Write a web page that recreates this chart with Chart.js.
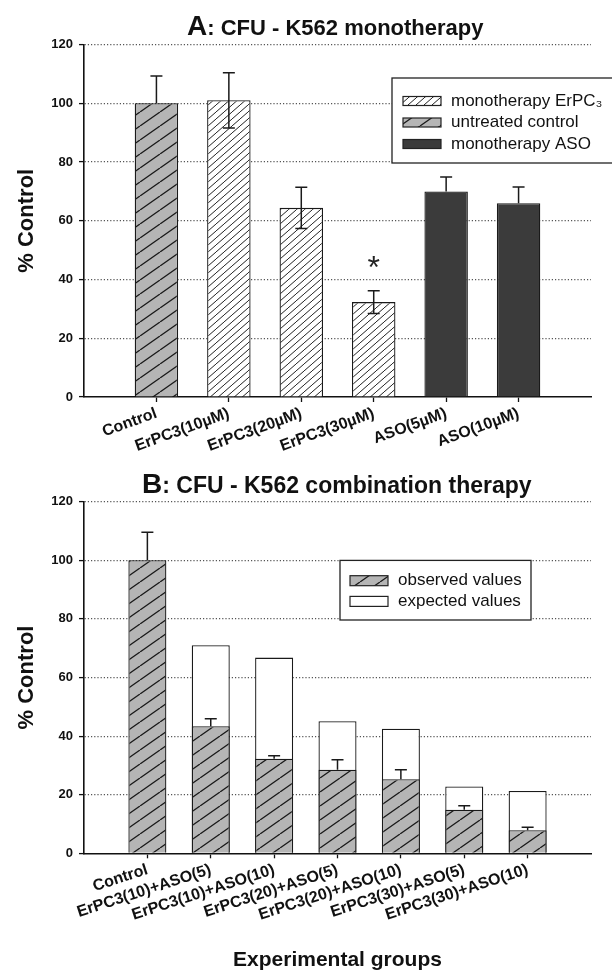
<!DOCTYPE html>
<html>
<head>
<meta charset="utf-8">
<script src="https://cdn.jsdelivr.net/npm/chart.js@4.4.1/dist/chart.umd.min.js"></script>
<style>
  html, body { margin: 0; padding: 0; background: #fff; }
  #page { position: relative; width: 612px; height: 971px; overflow: hidden; background: #fff; }
  canvas { position: absolute; left: 0; }
  #chartA { top: 0; }
  #chartB { top: 470px; }
  .ptitle {
    position: absolute; display: flex; align-items: baseline; z-index: 2;
    font-family: 'Liberation Sans', Arial, sans-serif; font-weight: bold;
    line-height: 1; white-space: nowrap; color: #111;
  }
  .ptitle .big { font-size: 28px; }
  .ptitle .rest { font-size: 22px; }
  #titleA { left: 187px; top: 12px; }
  #titleB { left: 142px; top: 470px; }
  #titleB .rest { font-size: 23px; }
</style>
</head>
<body>
<div id="page">
  <canvas id="chartA" width="612" height="470"></canvas>
  <canvas id="chartB" width="612" height="501"></canvas>
  <div class="ptitle" id="titleA"><span class="big">A</span><span class="rest">: CFU - K562 monotherapy</span></div>
  <div class="ptitle" id="titleB"><span class="big">B</span><span class="rest">: CFU - K562 combination therapy</span></div>
</div>
<script>
// ---- panel A: monotherapy ----
const aCategories = ['', 'Control', 'ErPC3(10µM)', 'ErPC3(20µM)', 'ErPC3(30µM)', 'ASO(5µM)', 'ASO(10µM)', ''];
const aErpc      = [null, null, 101, 64.4, 32.3, null, null, null];
const aErpcErr   = [null, null, 9.4, 7.0, 3.9, null, null, null];
const aControl    = [null, 100, null, null, null, null, null, null];
const aControlErr = [null, 9.3, null, null, null, null, null, null];
const aAso       = [null, null, null, null, null, 70, 66, null];
const aAsoErr    = [null, null, null, null, null, 4.9, 5.5, null];

// ---- panel B: combination therapy ----
const bCategories = ['', 'Control', 'ErPC3(10)+ASO(5)', 'ErPC3(10)+ASO(10)', 'ErPC3(20)+ASO(5)',
  'ErPC3(20)+ASO(10)', 'ErPC3(30)+ASO(5)', 'ErPC3(30)+ASO(10)', ''];
const bObserved    = [null, 100, 43.4, 32.3, 28.5, 25.3, 14.9, 7.9, null];
const bObservedErr = [null, 9.6, 2.5, 1.0, 3.4, 3.2, 1.3, 1.0, null];
const bExpected    = [null, null, 71.0, 66.8, 45.1, 42.5, 22.8, 21.3, null];

const yTicks = [0, 20, 40, 60, 80, 100, 120];

const FONT = "'Liberation Sans', Arial, sans-serif";
Chart.defaults.font.family = FONT;
Chart.defaults.color = '#111';

function makeHatch(ctx, bg, ink, w, h, lw) {
  const c = document.createElement('canvas');
  c.width = w; c.height = h;
  const g = c.getContext('2d');
  g.fillStyle = bg;
  g.fillRect(0, 0, w, h);
  g.strokeStyle = ink;
  g.lineWidth = lw;
  g.beginPath();
  for (let k = -1; k <= 1; k++) {
    g.moveTo(k * w, h);
    g.lineTo(k * w + w, 0);
  }
  g.stroke();
  return ctx.createPattern(c, 'repeat');
}

// error bars drawn from each dataset's own errors array
const errorBars = {
  id: 'errorBars',
  afterDatasetsDraw(chart) {
    const ctx = chart.ctx;
    const y = chart.scales.y;
    ctx.save();
    ctx.strokeStyle = '#1a1a1a';
    ctx.lineWidth = 1.5;
    chart.data.datasets.forEach((ds, di) => {
      if (!ds.errors) return;
      chart.getDatasetMeta(di).data.forEach((bar, i) => {
        const v = ds.data[i], e = ds.errors[i];
        if (v == null || e == null) return;
        const yt = y.getPixelForValue(v + e);
        const yb = y.getPixelForValue(ds.errorBoth ? v - e : v);
        ctx.beginPath();
        ctx.moveTo(bar.x, yb); ctx.lineTo(bar.x, yt);
        ctx.moveTo(bar.x - 6, yt); ctx.lineTo(bar.x + 6, yt);
        if (ds.errorBoth) { ctx.moveTo(bar.x - 6, yb); ctx.lineTo(bar.x + 6, yb); }
        ctx.stroke();
      });
    });
    ctx.restore();
  }
};

// boxed legend inside the plot area
const boxLegend = {
  id: 'boxLegend',
  afterDraw(chart, args, o) {
    if (!o.items) return;
    const ctx = chart.ctx;
    ctx.save();
    ctx.fillStyle = '#fff';
    ctx.fillRect(o.x, o.y, o.w, o.h);
    ctx.strokeStyle = '#222';
    ctx.lineWidth = 1.3;
    ctx.strokeRect(o.x, o.y, o.w, o.h);
    ctx.font = '17px ' + FONT;
    ctx.textBaseline = 'middle';
    o.items.forEach((di, i) => {
      const ds = chart.data.datasets[di];
      const cy = o.firstRow + i * o.rowGap;
      ctx.fillStyle = ds.backgroundColor;
      ctx.fillRect(o.swX, cy - o.swH / 2, o.swW, o.swH);
      ctx.lineWidth = 1.2;
      ctx.strokeStyle = '#222';
      ctx.strokeRect(o.swX, cy - o.swH / 2, o.swW, o.swH);
      ctx.fillStyle = '#111';
      ctx.fillText(ds.label, o.textX, cy);
    });
    ctx.restore();
  }
};

// significance mark above an error bar
const starMark = {
  id: 'starMark',
  afterDatasetsDraw(chart, args, o) {
    if (!o.text) return;
    const ds = chart.data.datasets[o.dataset];
    const bar = chart.getDatasetMeta(o.dataset).data[o.index];
    const top = chart.scales.y.getPixelForValue(ds.data[o.index] + ds.errors[o.index]);
    const ctx = chart.ctx;
    ctx.save();
    ctx.font = '32px ' + FONT;
    ctx.fillStyle = '#222';
    ctx.textAlign = 'center';
    ctx.textBaseline = 'alphabetic';
    ctx.fillText(o.text, bar.x, top - o.gap);
    ctx.restore();
  }
};

function scalesFor(rotation, xHeight, xTitle) {
  return {
    x: {
      offset: false,
      grid: {
        offset: false, drawOnChartArea: false, tickLength: 5, tickWidth: 1.3,
        tickColor: c => (c.tick && c.tick.label) ? '#111' : 'rgba(0,0,0,0)'
      },
      border: { color: '#111', width: 1.6 },
      ticks: {
        autoSkip: false, minRotation: rotation, maxRotation: rotation, padding: 2,
        color: '#111', font: { size: 16, weight: 'bold' }
      },
      title: xTitle ? {
        display: true, text: xTitle, color: '#111',
        font: { size: 21, weight: 'bold', lineHeight: 1 }, padding: { top: 0, bottom: 0 }
      } : { display: false },
      afterFit: s => { s.height = xHeight; }
    },
    y: {
      min: 0, max: 120,
      afterBuildTicks: s => { s.ticks = yTicks.map(v => ({ value: v })); },
      grid: {
        color: c => (c.tick && c.tick.value === 0) ? 'rgba(0,0,0,0)' : '#555',
        lineWidth: 1.2, tickLength: 5, tickColor: '#111', tickWidth: 1.3, tickBorderDash: []
      },
      border: { color: '#111', width: 1.6, dash: [1.2, 2] },
      ticks: { padding: 6, color: '#111', font: { size: 13, weight: 'bold' } },
      title: {
        display: true, text: '% Control', color: '#111',
        font: { size: 22, weight: 'bold', lineHeight: 1 }, padding: { top: 16, bottom: 0 }
      },
      afterFit: s => { s.width = 84; }
    }
  };
}

const ctxA = document.getElementById('chartA').getContext('2d');
const ctxB = document.getElementById('chartB').getContext('2d');
const hatchWhiteA = makeHatch(ctxA, '#ffffff', '#222', 8, 7, 1);
const hatchGrayA = makeHatch(ctxA, '#b5b5b5', '#1a1a1a', 20, 14, 1.3);
const hatchGrayB = makeHatch(ctxB, '#b5b5b5', '#1a1a1a', 20, 14, 1.3);

const barDefaults = { grouped: false, barPercentage: 0.6, categoryPercentage: 1, borderColor: '#1a1a1a', borderWidth: 1.3 };

new Chart(ctxA, {
  type: 'bar',
  data: {
    labels: aCategories,
    datasets: [
      { label: 'monotherapy ErPC₃', data: aErpc, errors: aErpcErr, errorBoth: true, backgroundColor: hatchWhiteA, ...barDefaults },
      { label: 'untreated control', data: aControl, errors: aControlErr, backgroundColor: hatchGrayA, ...barDefaults },
      { label: 'monotherapy ASO', data: aAso, errors: aAsoErr, backgroundColor: '#3b3b3b', ...barDefaults }
    ]
  },
  options: {
    responsive: false, animation: false, devicePixelRatio: 1,
    layout: { padding: { top: 44.5, right: 21, left: 0, bottom: 0 } },
    scales: scalesFor(20, 73, null),
    plugins: {
      legend: { display: false }, tooltip: { enabled: false },
      boxLegend: { items: [0, 1, 2], x: 392, y: 78, w: 240, h: 85, firstRow: 101, rowGap: 21.5,
        swX: 403, swW: 38, swH: 9, textX: 451 },
      starMark: { text: '*', dataset: 0, index: 4, gap: 13 }
    }
  },
  plugins: [errorBars, boxLegend, starMark]
});

new Chart(ctxB, {
  type: 'bar',
  data: {
    labels: bCategories,
    datasets: [
      { label: 'observed values', data: bObserved, errors: bObservedErr, backgroundColor: hatchGrayB, ...barDefaults },
      { label: 'expected values', data: bExpected, backgroundColor: '#ffffff', ...barDefaults }
    ]
  },
  options: {
    responsive: false, animation: false, devicePixelRatio: 1,
    layout: { padding: { top: 31.7, right: 21, left: 0, bottom: 0 } },
    scales: scalesFor(18, 117.7, 'Experimental groups'),
    plugins: {
      legend: { display: false }, tooltip: { enabled: false },
      boxLegend: { items: [0, 1], x: 340, y: 90.4, w: 191, h: 59.6, firstRow: 110.7, rowGap: 20.7,
        swX: 350, swW: 38, swH: 10, textX: 398 }
    }
  },
  plugins: [errorBars, boxLegend, starMark]
});
</script>
</body>
</html>
